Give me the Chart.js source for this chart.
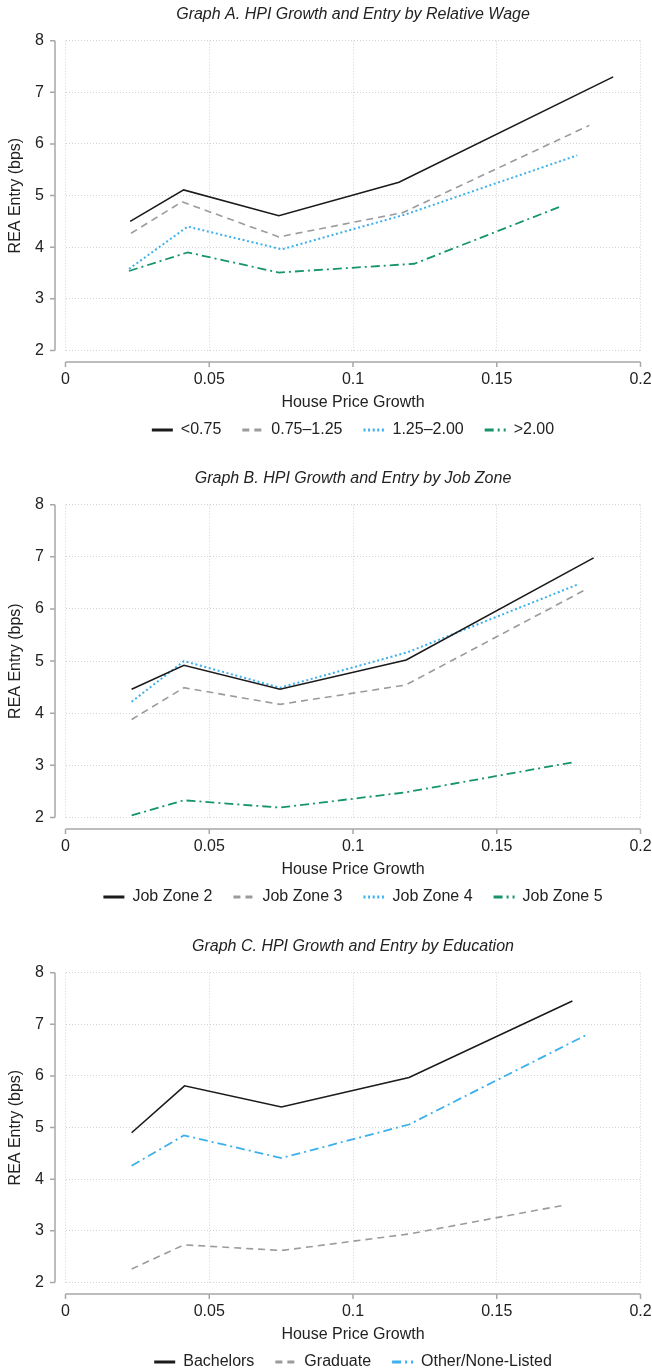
<!DOCTYPE html>
<html>
<head>
<meta charset="utf-8">
<script src="https://cdn.jsdelivr.net/npm/chart.js@4.4.0/dist/chart.umd.min.js"></script>
<style>
    html, body { margin: 0; padding: 0; background: #fff; overflow: hidden; }
    .panel { position: absolute; left: 0; width: 652px; }
</style>
</head>
<body>
<div class="panel" style="top:0;height:448px"><canvas id="chartA"></canvas></div>
<div class="panel" style="top:464px;height:451px"><canvas id="chartB"></canvas></div>
<div class="panel" style="top:932px;height:448px"><canvas id="chartC"></canvas></div>
<script>
/*-------------------- data --------------------*/
var xTicks = [0, 0.05, 0.1, 0.15, 0.2];
var yTicks = [2, 3, 4, 5, 6, 7, 8];

// Graph A: relative wage
var wageLabels = ['<0.75', '0.75–1.25', '1.25–2.00', '>2.00'];
var wage1X = [0.0225, 0.0411, 0.0742, 0.1160, 0.1905];
var wage1Y = [4.50, 5.11, 4.61, 5.26, 7.30];
var wage2X = [0.0228, 0.0405, 0.0742, 0.1173, 0.1822];
var wage2Y = [4.27, 4.88, 4.20, 4.67, 6.36];
var wage3X = [0.0221, 0.0425, 0.0752, 0.1180, 0.1780];
var wage3Y = [3.58, 4.40, 3.96, 4.63, 5.78];
var wage4X = [0.0221, 0.0425, 0.0742, 0.1213, 0.1727];
var wage4Y = [3.54, 3.90, 3.51, 3.68, 4.80];

// Graph B: job zone
var zoneLabels = ['Job Zone 2', 'Job Zone 3', 'Job Zone 4', 'Job Zone 5'];
var zone2X = [0.0230, 0.0412, 0.0746, 0.1185, 0.1837];
var zone2Y = [4.46, 4.92, 4.46, 5.02, 6.98];
var zone3X = [0.0230, 0.0412, 0.0746, 0.1183, 0.1812];
var zone3Y = [3.88, 4.49, 4.17, 4.54, 6.38];
var zone4X = [0.0230, 0.0412, 0.0746, 0.1190, 0.1782];
var zone4Y = [4.22, 5.00, 4.49, 5.17, 6.47];
var zone5X = [0.0230, 0.0412, 0.0746, 0.1180, 0.1766];
var zone5Y = [2.04, 2.33, 2.19, 2.48, 3.06];

// Graph C: education
var eduLabels = ['Bachelors', 'Graduate', 'Other/None-Listed'];
var bachX = [0.0230, 0.0414, 0.0751, 0.1195, 0.1763];
var bachY = [4.90, 5.81, 5.40, 5.97, 7.45];
var gradX = [0.0230, 0.0412, 0.0751, 0.1195, 0.1727];
var gradY = [2.26, 2.73, 2.62, 2.94, 3.49];
var otherX = [0.0230, 0.0412, 0.0751, 0.1195, 0.1810];
var otherY = [4.26, 4.85, 4.41, 5.06, 6.79];

/*-------------------- line styles --------------------*/
var SOLID = {color: '#1b1b1b', dash: [], width: 1.6};
var DASHED = {color: '#9b9b9b', dash: [7, 5], width: 1.6};
var DOTTED = {color: '#3cb0ec', dash: [2, 2.6], width: 2};
var DASHDOT_G = {color: '#17956a', dash: [9, 4, 2, 4], width: 1.8};
var DASHDOT_B = {color: '#3cb0ec', dash: [9, 4, 2, 4], width: 1.8};

Chart.defaults.font.family = '"Liberation Sans", Arial, Helvetica, sans-serif';
Chart.defaults.font.size = 16;
Chart.defaults.color = '#222';

/**
 * 合并x、y数组为点
 */
function toPoints(xs, ys) {
    var pts = [];
    for (var i = 0; i < xs.length; i++) {
        pts.push({x: xs[i], y: ys[i]});
    }
    return pts;
}

function makeDataset(label, xs, ys, style) {
    return {
        label: label,
        data: toPoints(xs, ys),
        borderColor: style.color,
        backgroundColor: style.color,
        borderDash: style.dash,
        borderWidth: style.width,
        pointRadius: 0,
        tension: 0,
        fill: false
    };
}

// Stata style axes: drawn a little away from the plot area
var offsetAxes = {
    id: 'offsetAxes',
    afterDraw: function (chart) {
        var ctx = chart.ctx,
            area = chart.chartArea,
            xs = chart.scales.x,
            ys = chart.scales.y,
            ax = area.left - 10.5,
            ay = area.bottom + 11.5;
        ctx.save();
        ctx.strokeStyle = '#a8a8a8';
        ctx.lineWidth = 1.5;
        ctx.beginPath();
        ctx.moveTo(ax, ys.getPixelForValue(yTicks[0]));
        ctx.lineTo(ax, ys.getPixelForValue(yTicks[yTicks.length - 1]));
        yTicks.forEach(function (v) {
            var p = ys.getPixelForValue(v);
            ctx.moveTo(ax - 5, p);
            ctx.lineTo(ax, p);
        });
        ctx.moveTo(xs.getPixelForValue(xTicks[0]), ay);
        ctx.lineTo(xs.getPixelForValue(xTicks[xTicks.length - 1]), ay);
        xTicks.forEach(function (v) {
            var p = xs.getPixelForValue(v);
            ctx.moveTo(p, ay);
            ctx.lineTo(p, ay + 5);
        });
        ctx.stroke();
        ctx.restore();
    }
};

function makeChart(id, title, datasets) {
    var ctx = document.getElementById(id).getContext('2d');
    return new Chart(ctx, {
        type: 'line',
        data: {datasets: datasets},
        plugins: [offsetAxes],
        options: {
            responsive: true,
            maintainAspectRatio: false,
            animation: false,
            layout: {padding: {left: 0, right: 11.5, top: 0, bottom: 0}},
            plugins: {
                title: {
                    display: true,
                    text: title,
                    fullSize: false,
                    font: {size: 16, style: 'italic', weight: 'normal'},
                    padding: {top: 4.9, bottom: 16.6}
                },
                legend: {
                    position: 'bottom',
                    fullSize: false,
                    labels: {
                        usePointStyle: true,
                        pointStyle: 'line',
                        pointStyleWidth: 21,
                        padding: 21,
                        font: {size: 16},
                        generateLabels: function (chart) {
                            var items = Chart.defaults.plugins.legend.labels.generateLabels(chart);
                            items.forEach(function (it) {
                                it.lineWidth = 3;
                                it.lineDash = chart.data.datasets[it.datasetIndex].borderDash;
                            });
                            return items;
                        }
                    }
                },
                tooltip: {enabled: false}
            },
            scales: {
                x: {
                    type: 'linear',
                    min: xTicks[0],
                    max: xTicks[xTicks.length - 1],
                    afterBuildTicks: function (scale) {
                        scale.ticks = xTicks.map(function (v) { return {value: v}; });
                    },
                    afterFit: function (scale) {
                        scale.paddingLeft = 5;
                        scale.paddingRight = 10;
                    },
                    ticks: {
                        padding: 19.1,
                        maxRotation: 0,
                        autoSkip: false,
                        callback: function (v) { return String(+Number(v).toFixed(2)); }
                    },
                    grid: {color: '#d3d3d3', lineWidth: 1, drawTicks: false},
                    border: {display: false, dash: [1, 2]},
                    title: {
                        display: true,
                        text: 'House Price Growth',
                        font: {size: 16},
                        padding: {top: -15, bottom: -11.1}
                    }
                },
                y: {
                    min: yTicks[0],
                    max: yTicks[yTicks.length - 1],
                    afterBuildTicks: function (scale) {
                        scale.ticks = yTicks.map(function (v) { return {value: v}; });
                    },
                    afterFit: function (scale) { scale.width = 65.5; },
                    ticks: {padding: 21.5},
                    grid: {color: '#d3d3d3', lineWidth: 1, drawTicks: false},
                    border: {display: false, dash: [1, 2]},
                    title: {
                        display: true,
                        text: 'REA Entry (bps)',
                        font: {size: 16},
                        padding: {top: 6, bottom: 0}
                    }
                }
            }
        }
    });
}

makeChart('chartA', 'Graph A. HPI Growth and Entry by Relative Wage', [
    makeDataset(wageLabels[0], wage1X, wage1Y, SOLID),
    makeDataset(wageLabels[1], wage2X, wage2Y, DASHED),
    makeDataset(wageLabels[2], wage3X, wage3Y, DOTTED),
    makeDataset(wageLabels[3], wage4X, wage4Y, DASHDOT_G)
]);

makeChart('chartB', 'Graph B. HPI Growth and Entry by Job Zone', [
    makeDataset(zoneLabels[0], zone2X, zone2Y, SOLID),
    makeDataset(zoneLabels[1], zone3X, zone3Y, DASHED),
    makeDataset(zoneLabels[2], zone4X, zone4Y, DOTTED),
    makeDataset(zoneLabels[3], zone5X, zone5Y, DASHDOT_G)
]);

makeChart('chartC', 'Graph C. HPI Growth and Entry by Education', [
    makeDataset(eduLabels[0], bachX, bachY, SOLID),
    makeDataset(eduLabels[1], gradX, gradY, DASHED),
    makeDataset(eduLabels[2], otherX, otherY, DASHDOT_B)
]);
</script>
</body>
</html>
